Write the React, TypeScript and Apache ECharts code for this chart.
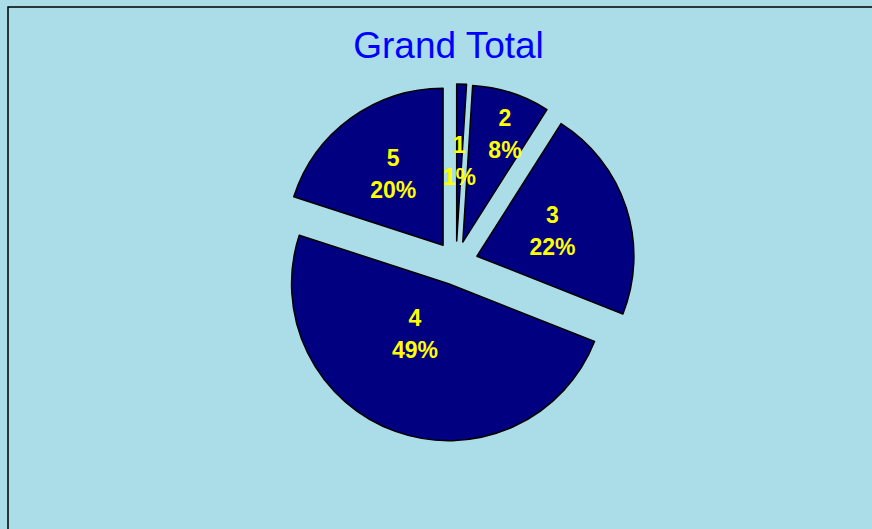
import React, { useEffect, useRef } from "react";
import * as echarts from "echarts";

const categories = ["1", "2", "3", "4", "5"];
const values = [1, 8, 22, 49, 20];
const titleText = "Grand Total";
// label nudges (dx, dy) per slice, mimicking the original label placement
const labelNudges: [number, number][] = [
  [0, 1],
  [17, -31],
  [-2, 0],
  [-6, -26],
  [-2, -5],
];

export default function App() {
  const ref = useRef<HTMLDivElement>(null);
  useEffect(() => {
    if (!ref.current) return;
    const chart = echarts.init(ref.current, undefined, { renderer: "svg" });
    const sliceStyle = { color: "#000080", borderColor: "#000000", borderWidth: 1.5 };
    chart.setOption({
      animation: false,
      backgroundColor: "#aadde8",
      graphic: [
        {
          type: "rect",
          z: 100,
          shape: { x: 8, y: 7, width: 900, height: 600 },
          style: { fill: "transparent", stroke: "#000000", lineWidth: 1.5 },
          silent: true,
        },
        {
          type: "text",
          x: 448.5,
          y: 27,
          style: {
            text: titleText,
            fill: "#0000ff",
            font: "37px 'Liberation Sans', Arial, sans-serif",
            textAlign: "center",
            textVerticalAlign: "top",
          },
        },
      ],
      series: [
        {
          type: "pie",
          center: [456, 263],
          radius: 157,
          startAngle: 90,
          clockwise: true,
          selectedMode: "multiple",
          selectedOffset: 22,
          avoidLabelOverlap: false,
          percentPrecision: 0,
          itemStyle: sliceStyle,
          select: { itemStyle: sliceStyle, label: { color: "#ffff00" } },
          emphasis: { disabled: true },
          label: {
            show: true,
            position: "inside",
            formatter: (p: any) => `${p.name}\n${Math.round(p.percent)}%`,
            color: "#ffff00",
            fontFamily: "'Liberation Sans', Arial, sans-serif",
            fontWeight: "bold",
            fontSize: 23,
            lineHeight: 32,
          },
          labelLine: { show: false },
          labelLayout: (params: any) => {
            const n = labelNudges[params.dataIndex] || [0, 0];
            return { dx: n[0], dy: n[1] };
          },
          data: categories.map((c, i) => ({ name: c, value: values[i], selected: true })),
        },
      ],
    });
    return () => chart.dispose();
  }, []);
  return (
    <div
      ref={ref}
      style={{ position: "absolute", left: 0, top: 0, width: 872, height: 529 }}
    />
  );
}
